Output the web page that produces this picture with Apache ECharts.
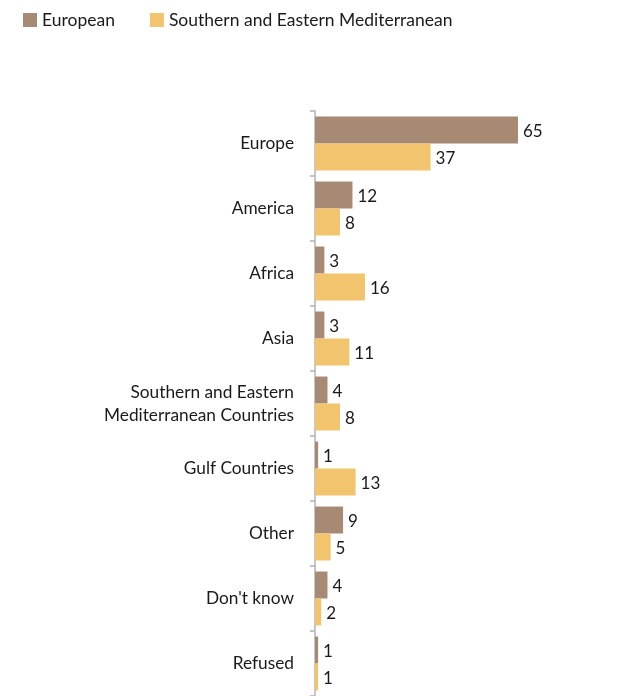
<!DOCTYPE html>
<html><head><meta charset="utf-8">
<script src="https://cdn.jsdelivr.net/npm/echarts@6/dist/echarts.min.js"></script>
<style>html,body{margin:0;padding:0;background:#fff}#c{width:626px;height:696px}</style>
</head><body><div id="c"></div>
<script>
const categories = ["Europe","America","Africa","Asia","Southern and Eastern\nMediterranean Countries","Gulf Countries","Other","Don't know","Refused"];
const seriesNames = ["European","Southern and Eastern Mediterranean"];
const european = [65,12,3,3,4,1,9,4,1];
const semed = [37,8,16,11,8,13,5,2,1];

const FONT = "Lato";
const chart = echarts.init(document.getElementById('c'), null, {renderer:'canvas'});
const lbl = {show:true, position:'right', distance:5, offset:[0,1.5], color:'#1a1a1a', fontSize:17, fontFamily:FONT};
chart.setOption({
  animation:false,
  textStyle:{fontFamily:FONT},
  legend:{
    left:18, top:6, itemWidth:14, itemHeight:14, itemGap:35, icon:'rect',
    textStyle:{fontSize:17.5, color:'#1a1a1a', fontFamily:FONT},
    data:seriesNames
  },
  grid:{left:315, top:111, width:218.6, height:588, containLabel:false},
  xAxis:{type:'value', min:0, max:70, show:false},
  yAxis:{
    type:'category', inverse:true, data:categories,
    axisLine:{show:true, lineStyle:{color:'#b3b3b3', width:1.5}},
    axisTick:{show:true, length:5, lineStyle:{color:'#b3b3b3', width:1.5}},
    axisLabel:{margin:21, fontSize:17.3, color:'#1a1a1a', fontFamily:FONT, align:'right', lineHeight:23, padding:[2,0,0,0]}
  },
  series:[
    {name:seriesNames[0], type:'bar', data:european, barGap:'0%', barCategoryGap:'17%',
     itemStyle:{color:'#a68a74'}, label:lbl},
    {name:seriesNames[1], type:'bar', data:semed, barGap:'0%', barCategoryGap:'17%',
     itemStyle:{color:'#f2c46e'}, label:lbl}
  ]
});
</script></body></html>
